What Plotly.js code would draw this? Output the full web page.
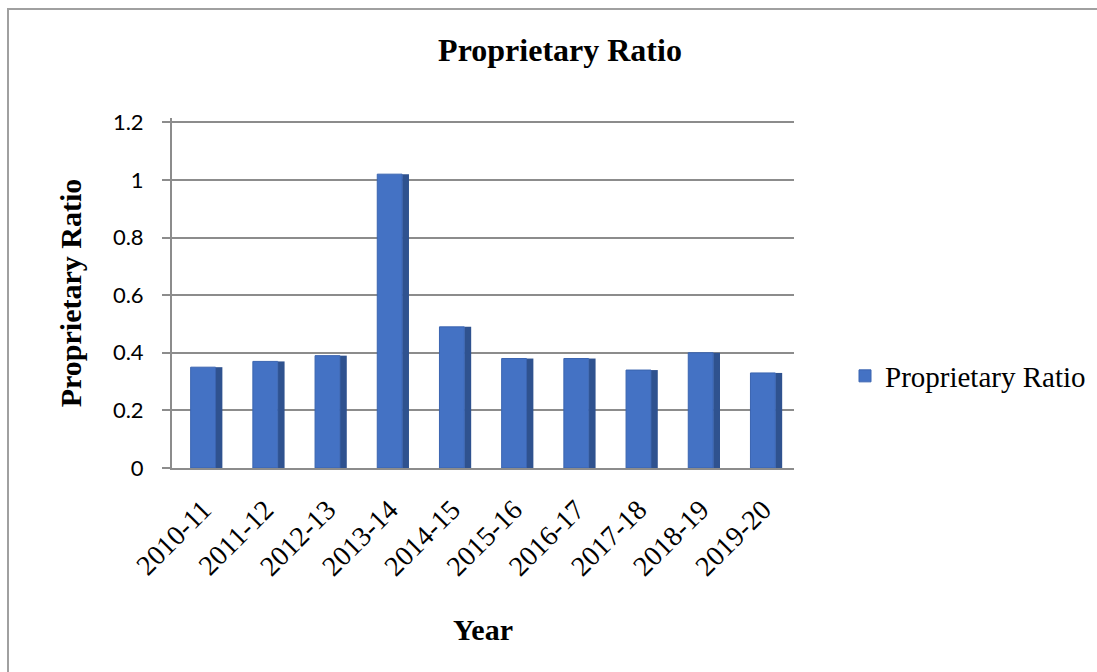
<!DOCTYPE html>
<html>
<head>
<meta charset="utf-8">
<script src="https://cdn.plot.ly/plotly-3.0.1.min.js"></script>
<style>
html,body{margin:0;padding:0;background:#fff;}
#chart{width:1097px;height:672px;}
#frame{position:absolute;left:7px;top:8px;width:1095px;height:670px;border-left:2px solid #a0a0a0;border-top:2px solid #a0a0a0;pointer-events:none;}
</style>
</head>
<body>
<div id="chart"></div>
<div id="frame"></div>
<script>
const categories = ["2010-11","2011-12","2012-13","2013-14","2014-15","2015-16","2016-17","2017-18","2018-19","2019-20"];
const ratioValues = [0.35,0.37,0.39,1.02,0.49,0.38,0.38,0.34,0.40,0.33];
const yTickVals = [0,0.2,0.4,0.6,0.8,1,1.2];
const yTickText = ["0","0.2","0.4","0.6","0.8","1","1.2"];
const seriesName = "Proprietary Ratio";

const W = 1097, H = 672;
const L = 172, R = 303, T = 118, B = 204;
const SERIF = 'Liberation Serif';

const front = {
  type: 'bar', x: categories, y: ratioValues, name: seriesName,
  width: 0.4, offset: -0.2,
  marker: {color: '#4472C4', line: {color: '#3A64B0', width: 1}},
  hoverinfo: 'x+y'
};
const side = {
  type: 'bar', x: categories, y: ratioValues, showlegend: false,
  width: 0.11, offset: 0.2,
  marker: {color: '#2F528F', line: {width: 0}},
  hoverinfo: 'skip'
};

const layout = {
  width: W, height: H,
  margin: {l: L, r: R, t: T, b: B},
  paper_bgcolor: '#ffffff', plot_bgcolor: '#ffffff',
  barmode: 'overlay',
  showlegend: true,
  title: {
    text: '<b>Proprietary Ratio</b>',
    font: {family: SERIF, size: 32, color: '#000'},
    x: 560 / W, xanchor: 'center', xref: 'container',
    y: 1 - 50 / H, yanchor: 'middle', yref: 'container'
  },
  xaxis: {
    type: 'category',
    range: [-0.5, 9.5],
    tickangle: -45,
    tickfont: {family: SERIF, size: 28, color: '#000'},
    showgrid: false, zeroline: false,
    showline: true, linecolor: '#8c8c8c', linewidth: 2,
    ticks: '', ticklabelstandoff: 12,
    title: {
      text: '<b>Year</b>',
      font: {family: SERIF, size: 30, color: '#000'},
      standoff: 38
    }
  },
  yaxis: {
    range: [0, 1.215],
    tickvals: yTickVals, ticktext: yTickText,
    tickfont: {family: 'Lato', size: 22, color: '#000'},
    showgrid: true, gridcolor: '#8c8c8c', gridwidth: 2,
    zeroline: false,
    showline: true, linecolor: '#8c8c8c', linewidth: 2,
    ticks: 'outside', ticklen: 8, tickwidth: 2, tickcolor: '#8c8c8c',
    ticklabelstandoff: 14,
    title: {
      text: '<b>Proprietary Ratio</b>',
      font: {family: SERIF, size: 30, color: '#000'},
      standoff: 22
    }
  },
  legend: {
    xref: 'container', yref: 'container',
    x: 845 / W, xanchor: 'left',
    y: 1 - 376 / H, yanchor: 'middle',
    font: {family: SERIF, size: 29, color: '#000'},
    bgcolor: 'rgba(0,0,0,0)', itemwidth: 30, traceorder: 'normal'
  }
};

Plotly.newPlot('chart', [side, front], layout, {displayModeBar: false, staticPlot: true});
</script>
</body>
</html>
